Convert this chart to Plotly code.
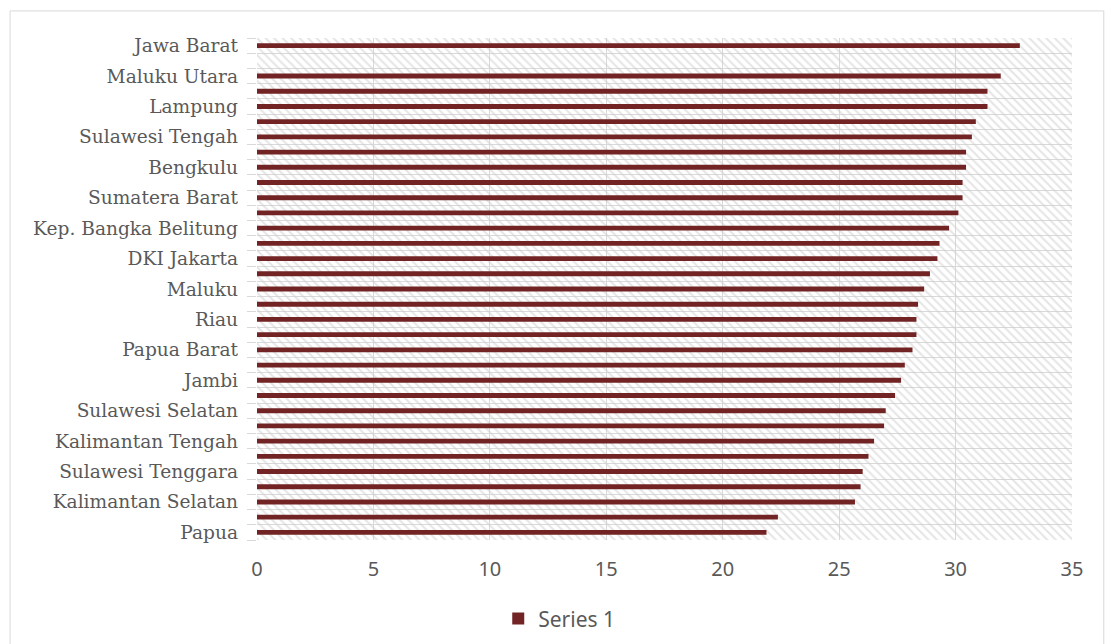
import plotly.graph_objects as go

# Categories top-to-bottom (only every other label is shown on the chart)
provinces = [
    "Jawa Barat", "Kalimantan Utara", "Maluku Utara", "Banten", "Lampung",
    "Jawa Tengah", "Sulawesi Tengah", "Sumatera Utara", "Bengkulu", "Kepulauan Riau",
    "Sumatera Barat", "Sumatera Selatan", "Kep. Bangka Belitung", "Aceh", "DKI Jakarta",
    "Jawa Timur", "Maluku", "DI Yogyakarta", "Riau", "Bali",
    "Papua Barat", "Kalimantan Timur", "Jambi", "Gorontalo", "Sulawesi Selatan",
    "Sulawesi Utara", "Kalimantan Tengah", "Sulawesi Barat", "Sulawesi Tenggara", "Kalimantan Barat",
    "Kalimantan Selatan", "Nusa Tenggara Barat", "Papua",
]
series_1 = [
    32.76, None, 31.94, 31.37, 31.37,
    30.87, 30.70, 30.45, 30.45, 30.30,
    30.30, 30.12, 29.72, 29.31, 29.22,
    28.90, 28.65, 28.39, 28.32, 28.32,
    28.15, 27.82, 27.66, 27.40, 27.00,
    26.93, 26.50, 26.26, 26.01, 25.92,
    25.68, 22.37, 21.88,
]
x_ticks = [0, 5, 10, 15, 20, 25, 30, 35]
AXIS_MAX = 35

tick_text = [p if i % 2 == 0 else "" for i, p in enumerate(provinces)]

fig = go.Figure()

# hatched plot-area background (one band per category)
fig.add_trace(go.Bar(
    y=provinces, x=[AXIS_MAX] * len(provinces), orientation="h", width=1,
    marker=dict(color="rgba(0,0,0,0)", line=dict(width=0),
                pattern=dict(shape="\\", fgcolor="#cccccc", bgcolor="rgba(0,0,0,0)",
                             size=6, solidity=0.35)),
    showlegend=False, hoverinfo="skip",
))

fig.add_trace(go.Bar(
    y=provinces, x=series_1, orientation="h", width=0.32, name="Series 1",
    marker=dict(color="#722424", line=dict(width=0)),
))

# page body has an 8px margin, so the figure is 8px smaller and margins shifted
fig.update_layout(
    width=1106, height=636,
    margin=dict(l=249, r=42, t=30, b=104, autoexpand=False),
    paper_bgcolor="white", plot_bgcolor="white",
    barmode="overlay",
    showlegend=True,
    legend=dict(orientation="h", x=0.296, xanchor="left", y=-0.157, yanchor="middle",
                font=dict(family="Noto Sans", size=21, color="#595959"),
                itemwidth=30),
    xaxis=dict(range=[0, AXIS_MAX], tickmode="array", tickvals=x_ticks, automargin=False,
               showgrid=True, gridcolor="#d9d9d9", gridwidth=1, zeroline=False,
               showline=False, ticks="", ticklabelstandoff=15,
               tickfont=dict(family="Noto Sans", size=20, color="#595959")),
    yaxis=dict(type="category", categoryorder="array", categoryarray=provinces,
               autorange="reversed", tickmode="array", tickvals=provinces, ticktext=tick_text,
               tickson="boundaries", ticks="outside", ticklen=9, tickcolor="#d9d9d9",
               ticklabelstandoff=18, automargin=False,
               showgrid=True, gridcolor="#d9d9d9", gridwidth=1, showline=False,
               tickfont=dict(family="DejaVu Serif", size=18.6, color="#595959")),
    shapes=[dict(type="rect", xref="paper", yref="paper",
                 x0=-0.303, x1=1.039, y0=-0.23, y1=1.054,
                 line=dict(color="#d9d9d9", width=1), layer="below")],
)

fig.write_html("out.html")
